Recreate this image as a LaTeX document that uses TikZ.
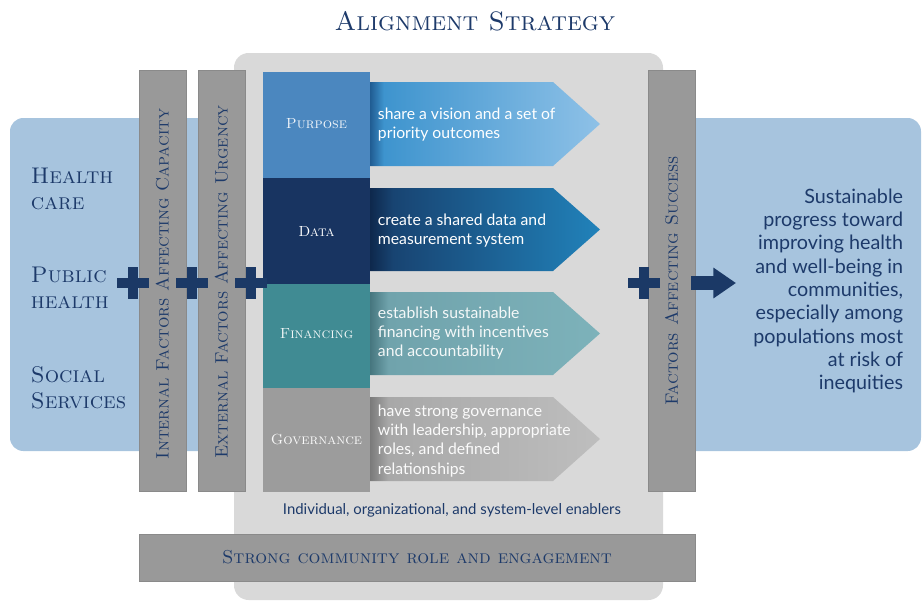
\documentclass[tikz,border=0pt]{standalone}
\usepackage{fontspec}
\newfontfamily\lato{Lato}
\usetikzlibrary{positioning,arrows.meta}

\definecolor{navy}{RGB}{29,58,106}
\definecolor{plusnavy}{RGB}{27,57,102}
\definecolor{panelblue}{RGB}{167,196,222}
\definecolor{panelgray}{RGB}{217,217,217}
\definecolor{bargray}{RGB}{153,153,153}
\definecolor{baredge}{RGB}{138,138,138}
\definecolor{purposebox}{RGB}{75,135,191}
\definecolor{databox}{RGB}{24,52,97}
\definecolor{financebox}{RGB}{64,139,147}
\definecolor{govbox}{RGB}{156,156,156}
\definecolor{pa1}{RGB}{32,92,146}
\definecolor{pa2}{RGB}{62,148,206}
\definecolor{pa3}{RGB}{142,193,231}
\definecolor{da1}{RGB}{14,40,76}
\definecolor{da2}{RGB}{24,68,114}
\definecolor{da3}{RGB}{33,130,186}
\definecolor{fa1}{RGB}{70,118,126}
\definecolor{fa2}{RGB}{112,163,172}
\definecolor{fa3}{RGB}{125,178,186}
\definecolor{ga1}{RGB}{122,122,122}
\definecolor{ga2}{RGB}{168,168,168}
\definecolor{ga3}{RGB}{190,190,190}

\pgfdeclarehorizontalshading{purposeshade}{100bp}{color(0bp)=(pa1); color(25bp)=(pa1); color(28bp)=(pa2); color(75bp)=(pa3); color(100bp)=(pa3)}
\pgfdeclarehorizontalshading{datashade}{100bp}{color(0bp)=(da1); color(25bp)=(da1); color(30bp)=(da2); color(75bp)=(da3); color(100bp)=(da3)}
\pgfdeclarehorizontalshading{financeshade}{100bp}{color(0bp)=(fa1); color(25bp)=(fa1); color(29bp)=(fa2); color(75bp)=(fa3); color(100bp)=(fa3)}
\pgfdeclarehorizontalshading{govshade}{100bp}{color(0bp)=(ga1); color(25bp)=(ga1); color(29bp)=(ga2); color(75bp)=(ga3); color(100bp)=(ga3)}

\tikzset{every picture/.style={line width=0.75pt}}
\tikzset{
  factorbar/.style={fill=bargray, draw=baredge, line width=0.5pt},
  barlabel/.style={rotate=90, text=navy, font=\fontsize{13.5}{15}\selectfont\scshape},
  boxlabel/.style={font=\fontsize{11}{12}\selectfont\scshape},
  arrowtext/.style={anchor=west, align=left, text=white, font=\lato\fontsize{11.8}{14.3}\selectfont},
  sectorlabel/.style={anchor=west, align=left, text=navy, font=\fontsize{17}{19.5}\selectfont\scshape},
  plusmark/.style={draw=plusnavy, line width=7.5pt},
}

\begin{document}
\begin{tikzpicture}[x=0.75pt,y=0.75pt,yscale=-1,xscale=1]
\useasboundingbox (0,0) rectangle (922,601);

%Shape: Rounded Rect [left panel]
\fill [panelblue, rounded corners=10pt] (10,118) rectangle (262,451) ;
%Shape: Rounded Rect [right panel]
\fill [panelblue, rounded corners=10pt] (670,118) rectangle (921,451) ;
%Shape: Rounded Rect [alignment panel]
\fill [panelgray, rounded corners=11pt] (234,53) rectangle (663,600) ;

%Shape: Rectangle [internal factors]
\draw [factorbar] (139,70) rectangle (186,491) ;
%Shape: Rectangle [external factors]
\draw [factorbar] (198,70) rectangle (245,491) ;
%Shape: Rectangle [factors affecting success]
\draw [factorbar] (648,70) rectangle (695,491) ;
%Shape: Rectangle [community]
\draw [factorbar] (139,534) rectangle (695,581) ;

%Shape: Rectangle [purpose]
\fill [purposebox] (263,72) rectangle (370,178) ;
%Shape: Rectangle [data]
\fill [databox] (263,178) rectangle (370,284) ;
%Shape: Rectangle [financing]
\fill [financebox] (263,284) rectangle (370,388) ;
%Shape: Rectangle [governance]
\fill [govbox] (263,388) rectangle (370,492) ;

%Shape: Pentagon arrows
\shade [shading=purposeshade] (370,82) -- (553,82) -- (600,124) -- (553,166) -- (370,166) -- cycle ;
\shade [shading=datashade] (370,188) -- (553,188) -- (600,229.5) -- (553,271) -- (370,271) -- cycle ;
\shade [shading=financeshade] (370,292) -- (553,292) -- (600,333.5) -- (553,375) -- (370,375) -- cycle ;
\shade [shading=govshade] (370,397) -- (553,397) -- (600,439) -- (553,481) -- (370,481) -- cycle ;

%Plus signs
\draw [plusmark] (133,283) +(-16,0) -- +(16,0) (133,283) +(0,-16) -- +(0,16) ;
\draw [plusmark] (192,283) +(-16,0) -- +(16,0) (192,283) +(0,-16) -- +(0,16) ;
\draw [plusmark] (251,283) +(-16,0) -- +(16,0) (251,283) +(0,-16) -- +(0,16) ;
\draw [plusmark] (644,283) +(-16,0) -- +(16,0) (644,283) +(0,-16) -- +(0,16) ;

% Text Node
\draw (475,21) node [text=navy, font=\fontsize{20}{22}\selectfont\scshape] (title) {Alignment Strategy};
% Text Node
\draw (26,189) node [sectorlabel] (healthcare) {Health\\care};
% Text Node
\draw (26,288) node [sectorlabel] (publichealth) {Public\\health};
% Text Node
\draw (26,387.5) node [sectorlabel] (socialservices) {Social\\Services};
% Text Node
\draw (162.5,284) node [barlabel] (internal) {Internal Factors Affecting Capacity};
% Text Node
\draw (221.5,282) node [barlabel] (external) {External Factors Affecting Urgency};
% Text Node
\draw (671.5,281) node [barlabel] (success) {Factors Affecting Success};
% Text Node
\draw (417,557) node [text=navy, font=\fontsize{14}{15}\selectfont\scshape] (community) {Strong community role and engagement};
% Text Node
\draw (316.5,124) node [boxlabel, text=white!92!purposebox] (purpose) {Purpose};
% Text Node
\draw (316.5,231) node [boxlabel, text=white] (data) {Data};
% Text Node
\draw (316.5,334) node [boxlabel, text=white!92!financebox] (financing) {Financing};
% Text Node
\draw (316.5,439) node [boxlabel, text=white!95!govbox] (governance) {Governance};
% Text Node
\draw (373,125) node [arrowtext] (purposetxt) {share a vision and a set of\\priority outcomes};
% Text Node
\draw (373,230.5) node [arrowtext] (datatxt) {create a shared data and\\measurement system};
% Text Node
\draw (373,333) node [arrowtext, text=white!92!fa2] (financingtxt) {establish sustainable\\financing with incentives\\and accountability};
% Text Node
\draw (373,441) node [arrowtext, text=white!95!ga2] (governancetxt) {have strong governance\\with leadership, appropriate\\roles, and defined\\relationships};
% Text Node
\draw (452,510) node [text=navy, font=\lato\fontsize{11.2}{12}\selectfont] (enablers) {Individual, organizational, and system-level enablers};
% Text Node
\draw (908,291) node [anchor=east, align=right, text=navy, font=\lato\fontsize{14.8}{17.5}\selectfont] (outcome) {Sustainable\\progress toward\\improving health\\and well-being in\\communities,\\especially among\\populations most\\at risk of\\inequities};

%Block arrow
\coordinate (arrowstart) at (691,283) ;
\coordinate (arrowend) at (736,283) ;
\draw [plusnavy, line width=11pt, -{Triangle[length=17pt, width=22pt]}] (arrowstart) -- (arrowend) ;

\end{tikzpicture}
\end{document}
